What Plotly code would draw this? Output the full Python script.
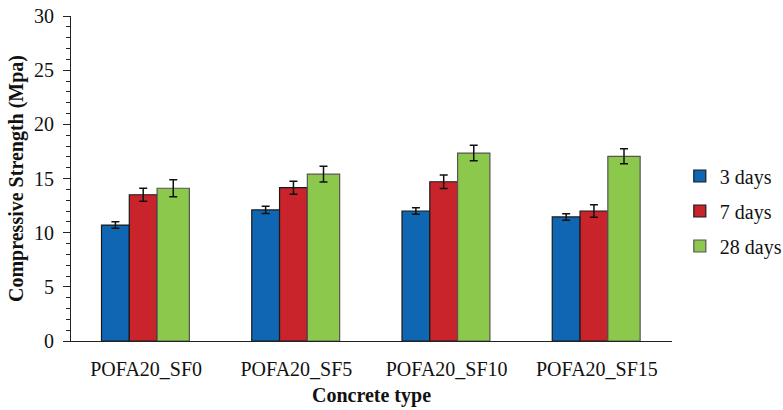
import plotly.graph_objects as go

categories = ["POFA20_SF0", "POFA20_SF5", "POFA20_SF10", "POFA20_SF15"]
series_names = ["3 days", "7 days", "28 days"]
days3 = [10.7, 12.1, 12.0, 11.45]
days7 = [13.5, 14.15, 14.7, 12.0]
days28 = [14.1, 15.4, 17.35, 17.05]
err3 = [0.3, 0.33, 0.3, 0.3]
err7 = [0.6, 0.6, 0.62, 0.58]
err28 = [0.78, 0.72, 0.71, 0.7]

colors = ["#0F67B3", "#C9242B", "#8CC84B"]
outlines = ["#1a1a1a", "#1a1a1a", "#555555"]
offsets = [-0.297, -0.112, 0.073]
widths = [0.185, 0.185, 0.215]

FONT = "Liberation Serif"

fig = go.Figure()
for name, vals, errs, c, oc, off, w in zip(series_names, [days3, days7, days28],
                                         [err3, err7, err28], colors, outlines, offsets, widths):
    fig.add_trace(go.Bar(
        x=list(range(len(categories))), y=vals, name=name, legendgroup=name,
        marker=dict(color=c, line=dict(color=oc, width=1.2)),
        offset=off, width=w,
        error_y=dict(type="data", array=errs, visible=True, color="#111111", thickness=1.5, width=4),
    ))

fig.update_layout(
    width=783, height=410,
    margin=dict(l=71, r=111, t=16, b=69, autoexpand=False),
    paper_bgcolor="white", plot_bgcolor="white",
    font=dict(family=FONT, size=20, color="#111111"),
    barmode="overlay",
    showlegend=True,
    legend=dict(x=1.013, y=0.40, xanchor="left", yanchor="middle",
                font=dict(family=FONT, size=20, color="#111111"),
                itemwidth=30, tracegroupgap=6, bgcolor="rgba(0,0,0,0)"),
)
fig.update_xaxes(
    tickmode="array", tickvals=list(range(len(categories))), ticktext=categories,
    range=[-0.5, 3.5], showline=True, linecolor="#222222", linewidth=1.2,
    ticks="", showgrid=False, zeroline=False, ticklabelstandoff=10, automargin=False,
    tickfont=dict(family=FONT, size=20, color="#111111"),
    title=dict(text="<b>Concrete type</b>", font=dict(family=FONT, size=20, color="#111111"), standoff=8),
)
fig.update_yaxes(
    range=[0, 30], tickvals=[0, 5, 10, 15, 20, 25, 30], showline=True, automargin=False,
    linecolor="#222222", linewidth=1.2, ticks="outside", ticklen=7, tickcolor="#222222",
    tickwidth=1.2, showgrid=False, zeroline=False, ticklabelstandoff=5,
    minor=dict(dtick=1, ticks="outside", ticklen=4, tickcolor="#222222", tickwidth=1, showgrid=False),
    tickfont=dict(family=FONT, size=20, color="#111111"),
    title=dict(text="<b>Compressive Strength (Mpa)</b>", font=dict(family=FONT, size=20, color="#111111"), standoff=4),
)

fig.write_html("out.html", post_script="document.body.style.margin='0';", config={"displayModeBar": False})
